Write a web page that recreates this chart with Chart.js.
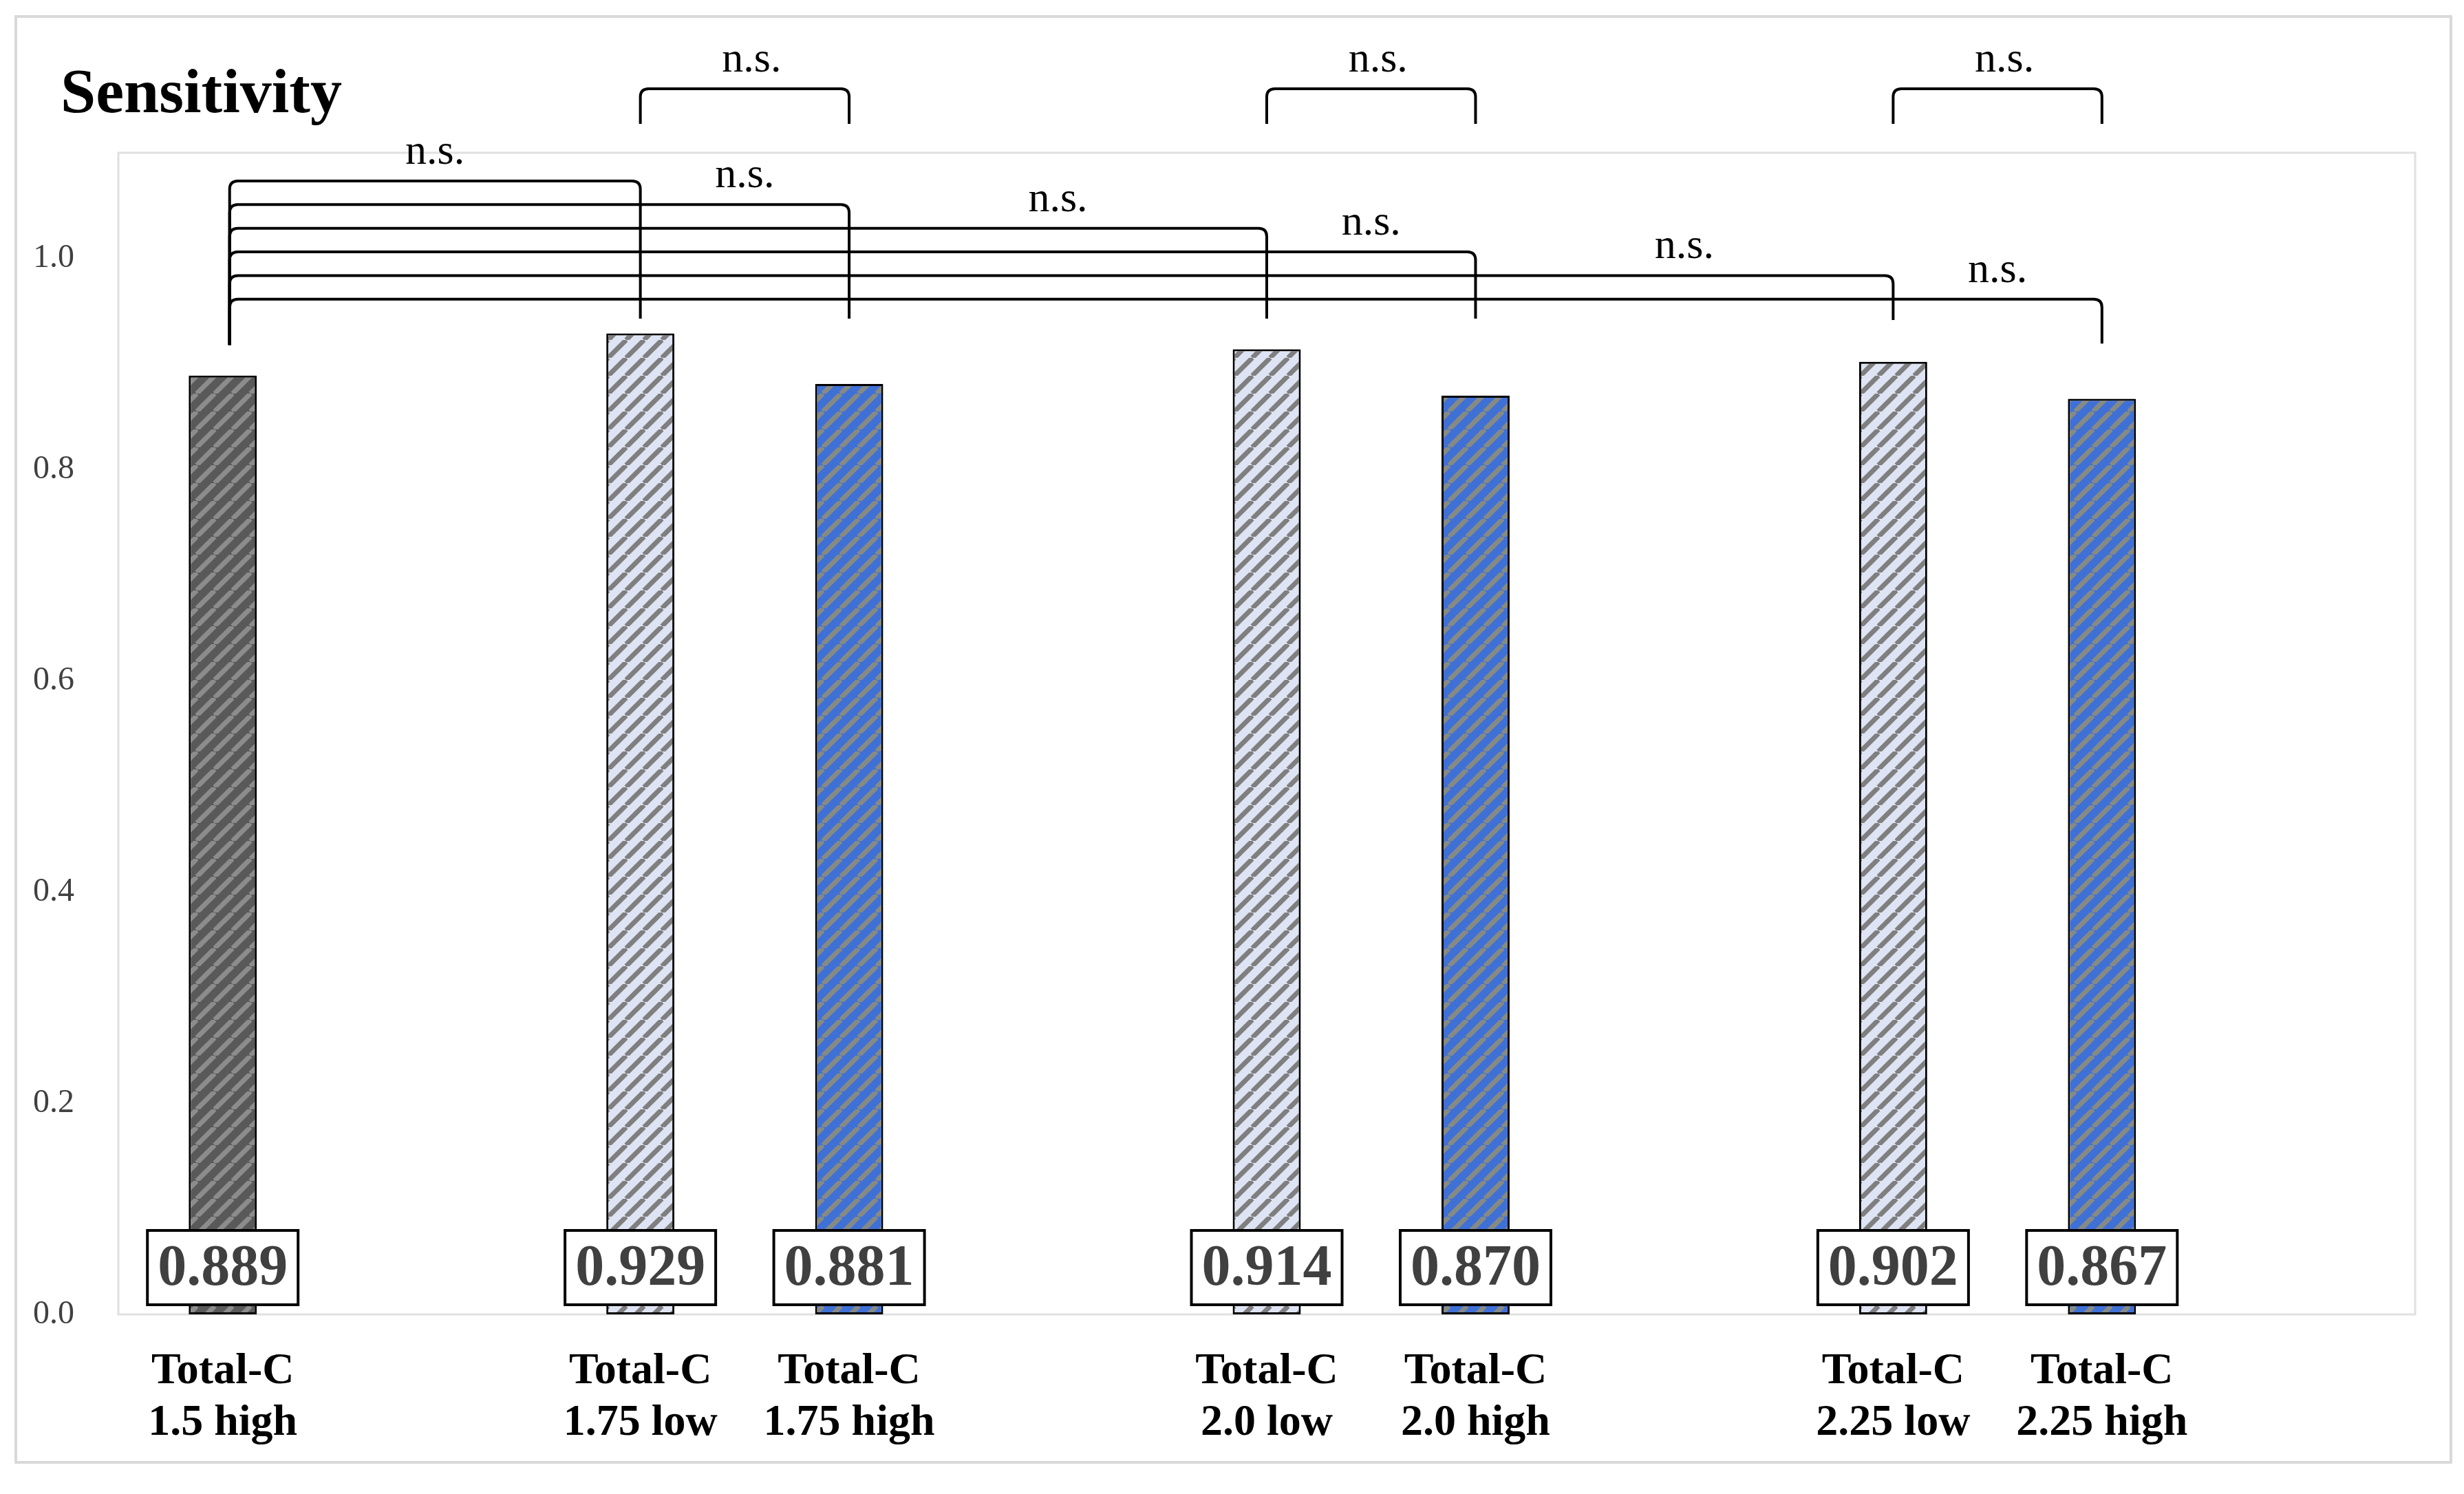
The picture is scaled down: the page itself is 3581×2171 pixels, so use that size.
<!DOCTYPE html>
<html><head><meta charset="utf-8">
<script src="https://cdn.jsdelivr.net/npm/chart.js@4.4.1/dist/chart.umd.min.js"></script>
<style>html,body{margin:0;padding:0;background:#fff}#wrap{width:3581px;height:2171px;position:relative}</style>
</head><body><div id="wrap"><canvas id="c"></canvas></div>
<script>
const chartTitle = 'Sensitivity';
const categories = [['Total-C','1.5 high'], '', ['Total-C','1.75 low'], ['Total-C','1.75 high'], '', ['Total-C','2.0 low'], ['Total-C','2.0 high'], '', ['Total-C','2.25 low'], ['Total-C','2.25 high'], ''];
const sensitivity = [0.889, null, 0.929, 0.881, null, 0.914, 0.870, null, 0.902, 0.867, null];
const yTicks = [0.0, 0.2, 0.4, 0.6, 0.8, 1.0];
const comparisonPairs = [[0,2],[0,3],[0,5],[0,6],[0,8],[0,9],[2,3],[5,6],[8,9]];
const comparisonLabels = ['n.s.','n.s.','n.s.','n.s.','n.s.','n.s.','n.s.','n.s.','n.s.'];

const SERIF = '"Liberation Serif", "Times New Roman", serif';

function makePattern(bg, stripe) {
  const p = 26;
  const c = document.createElement('canvas');
  c.width = p; c.height = p;
  const g = c.getContext('2d');
  g.fillStyle = bg; g.fillRect(0, 0, p, p);
  g.strokeStyle = stripe; g.lineWidth = 7;
  for (const x0 of [-p, 0, p]) {
    g.beginPath(); g.moveTo(x0, p); g.lineTo(x0 + p, 0); g.stroke();
  }
  return g.createPattern(c, 'repeat');
}
const patDark = makePattern('#595959', '#8c8c8c');
const patLight = makePattern('#dee4f4', '#7f7f7f');
const patBlue = makePattern('#3f70d6', '#868a84');
function barFill(i) {
  const lab = categories[i];
  if (!Array.isArray(lab)) return patDark;
  const s = lab[1];
  if (s.startsWith('1.5')) return patDark;
  if (s.endsWith('low')) return patLight;
  return patBlue;
}

const decor = {
  id: 'decor',
  beforeDraw(chart) {
    const ctx = chart.ctx, ca = chart.chartArea;
    ctx.save();
    ctx.fillStyle = '#fff'; ctx.fillRect(0, 0, chart.width, chart.height);
    ctx.strokeStyle = '#d9d9d9'; ctx.lineWidth = 4;
    ctx.strokeRect(23, 24, chart.width - 42, chart.height - 70);
    ctx.strokeStyle = '#e0e0e0'; ctx.lineWidth = 3;
    ctx.strokeRect(ca.left, ca.top, ca.right - ca.left, ca.bottom - ca.top);
    // chart title
    ctx.fillStyle = '#000';
    ctx.font = 'bold 92px ' + SERIF;
    ctx.textAlign = 'left'; ctx.textBaseline = 'alphabetic';
    ctx.fillText(chartTitle, 88, 163);
    ctx.restore();
  },
  afterDatasetsDraw(chart) {
    const ctx = chart.ctx, meta = chart.getDatasetMeta(0), y = chart.scales.y;
    ctx.save();
    // value boxes
    ctx.font = 'bold 84px ' + SERIF;
    meta.data.forEach((bar, i) => {
      const v = sensitivity[i];
      if (v == null) return;
      const text = v.toFixed(3);
      const w = ctx.measureText(text).width + 30;
      const h = 108;
      const bottom = y.getPixelForValue(0) - 14;
      const cx = bar.x;
      ctx.fillStyle = '#fff'; ctx.fillRect(cx - w / 2, bottom - h, w, h);
      ctx.lineWidth = 4; ctx.strokeStyle = '#000'; ctx.strokeRect(cx - w / 2, bottom - h, w, h);
      ctx.fillStyle = '#404040'; ctx.textAlign = 'center'; ctx.textBaseline = 'middle';
      ctx.fillText(text, cx, bottom - h / 2 + 3);
    });
    // significance brackets
    ctx.lineWidth = 4; ctx.strokeStyle = '#000'; ctx.lineJoin = 'round';
    ctx.font = '62px ' + SERIF; ctx.fillStyle = '#000';
    ctx.textAlign = 'center'; ctx.textBaseline = 'alphabetic';
    let stackK = 0, prevX = null;
    comparisonPairs.forEach(([a, b], n) => {
      let x1 = meta.data[a].x, x2 = meta.data[b].x, lvl, bot1, bot2, lx;
      if (b - a === 1) {
        lvl = 1.1606; bot1 = bot2 = 1.1274; lx = (x1 + x2) / 2 + 10;
      } else {
        x1 += 10;
        lvl = 1.0733 - 0.0224 * stackK;
        bot1 = 0.918; bot2 = Math.min(0.943, lvl - 0.042);
        lx = ((prevX === null ? x1 : prevX) + x2) / 2;
        prevX = x2; stackK++;
      }
      const yl = y.getPixelForValue(lvl), yb1 = y.getPixelForValue(bot1), yb2 = y.getPixelForValue(bot2);
      const r = 12;
      ctx.beginPath();
      ctx.moveTo(x1, yb1); ctx.lineTo(x1, yl + r);
      ctx.quadraticCurveTo(x1, yl, x1 + r, yl);
      ctx.lineTo(x2 - r, yl);
      ctx.quadraticCurveTo(x2, yl, x2, yl + r);
      ctx.lineTo(x2, yb2);
      ctx.stroke();
      ctx.fillText(comparisonLabels[n], lx, yl - 25);
    });
    ctx.restore();
  }
};

new Chart(document.getElementById('c'), {
  type: 'bar',
  data: {
    labels: categories,
    datasets: [{
      data: sensitivity,
      backgroundColor: ctx => barFill(ctx.dataIndex),
      borderColor: '#000',
      borderWidth: 3,
      borderSkipped: false,
      categoryPercentage: 1,
      barPercentage: 0.326
    }]
  },
  options: {
    responsive: true,
    maintainAspectRatio: false,
    devicePixelRatio: 1,
    animation: false,
    layout: { padding: { left: 40, right: 71, top: 222, bottom: 0 } },
    plugins: {
      legend: { display: false },
      tooltip: { enabled: false },
      title: { display: false }
    },
    scales: {
      x: {
        type: 'category',
        grid: { display: false },
        border: { display: false },
        ticks: {
          autoSkip: false, maxRotation: 0, minRotation: 0, padding: 38, color: '#000',
          font: { family: SERIF, size: 64, weight: 'bold', lineHeight: 1.17 }
        },
        afterFit: s => { s.height = 261; }
      },
      y: {
        min: 0, max: 1.1,
        grid: { display: false },
        border: { display: false },
        afterBuildTicks: s => { s.ticks = yTicks.map(v => ({ value: v })); },
        ticks: {
          padding: 56, color: '#404040',
          font: { family: SERIF, size: 48 },
          callback: v => Number(v).toFixed(1)
        },
        afterFit: s => { s.width = 132; }
      }
    }
  },
  plugins: [decor]
});
</script>
</body></html>
